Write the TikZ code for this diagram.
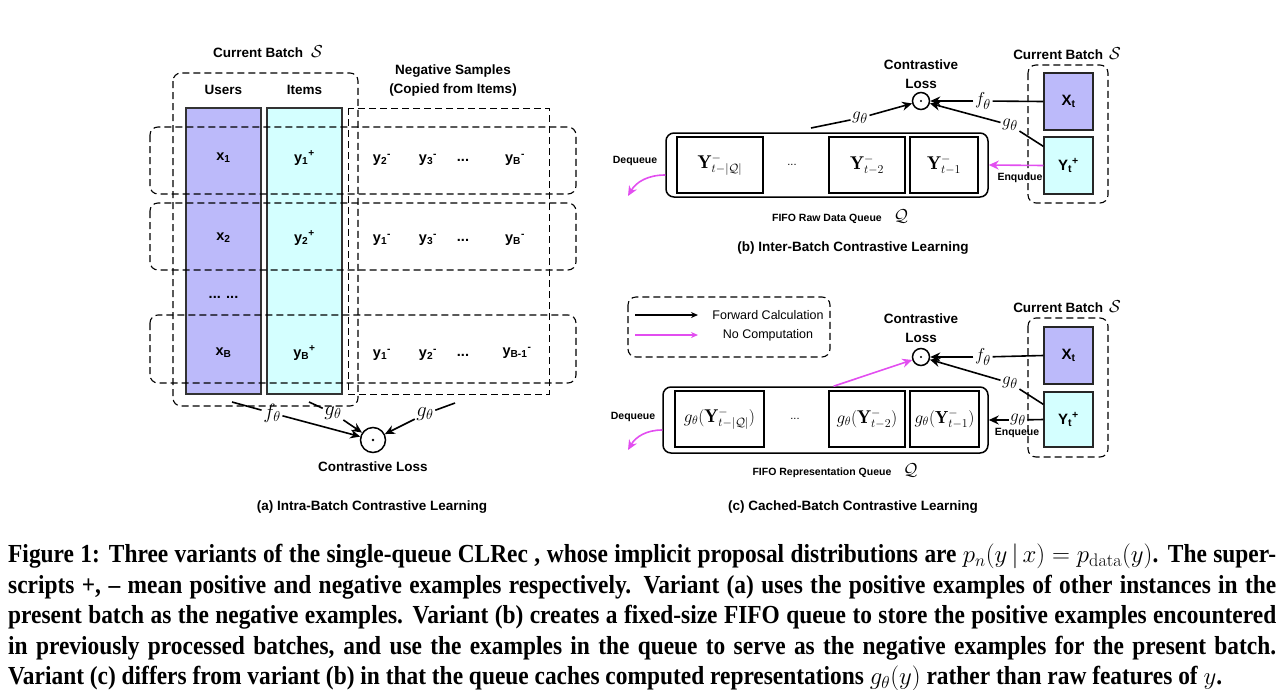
\documentclass[tikz,border=0pt]{standalone}
\usepackage{fontspec}
\setsansfont{Liberation Sans}
\newfontfamily\capfont[FakeStretch=0.9,Ligatures=TeX]{Liberation Serif}
\usepackage{tikz}
\usetikzlibrary{arrows.meta,backgrounds}
\definecolor{userblue}{RGB}{188,186,250}
\definecolor{itemcyan}{RGB}{212,255,255}
\definecolor{nocomp}{RGB}{226,78,240}
\tikzstyle{ttl}=[font=\sffamily\bfseries\fontsize{13.5}{19}\selectfont, inner sep=1pt, align=center]
\tikzstyle{cell}=[font=\sffamily\bfseries\fontsize{14.5}{16}\selectfont, inner sep=1pt]
\tikzstyle{smalltxt}=[font=\sffamily\bfseries\fontsize{10.5}{12}\selectfont, inner sep=1pt]
\tikzstyle{legtxt}=[font=\sffamily\fontsize{12.5}{14}\selectfont, inner sep=1pt]
\tikzstyle{mlbl}=[font=\fontsize{19}{22}\selectfont, inner sep=1.5pt]
\tikzstyle{mlbla}=[font=\fontsize{21}{24}\selectfont, inner sep=1.5pt]
\tikzstyle{colbox}=[rectangle, draw=black!80, line width=1.2pt, anchor=north west, minimum width=75pt, minimum height=286pt, inner sep=0pt, outer sep=0pt]
\tikzstyle{batchbox}=[rectangle, draw=black!85, line width=1.2pt, minimum width=49pt, inner sep=0pt, font=\sffamily\bfseries\fontsize{15}{17}\selectfont]
\tikzstyle{queue}=[rectangle, draw, line width=1.5pt, rounded corners=8pt, inner sep=0pt]
\tikzstyle{qcell}=[rectangle, draw, line width=1.4pt, minimum height=56pt, inner sep=0pt, font=\fontsize{18.5}{20}\selectfont]
\tikzstyle{lossnode}=[circle, draw, line width=1.5pt, inner sep=0pt]
\tikzstyle{dashbox}=[dash pattern=on 7pt off 4pt, line width=1.1pt]
\tikzstyle{line1}=[line width=1.6pt]
\tikzstyle{arrow1}=[line width=1.6pt, -{Stealth[length=10pt,width=9pt]}]
\tikzstyle{arrow2}=[line width=1.6pt, draw=nocomp, -{Stealth[length=10pt,width=9pt]}]
\newcommand\capsize{\fontsize{26}{30.5}\selectfont}
\begin{document}
\begin{tikzpicture}[x=1pt,y=-1pt]
\useasboundingbox (0,0) rectangle (1288,689);
%(a) Intra-Batch
\begin{scope}[on background layer]
\node[colbox, fill=userblue] (users) at (186,108){};
\node[colbox, fill=itemcyan] (items) at (267,108){};
\end{scope}
\draw[dashbox, rounded corners=8pt] (173,73) rectangle (358,406);
\draw[dashbox, line width=0.9pt] (348,108) rectangle (549,394);
\draw[dashbox, rounded corners=8pt] (150,127) rectangle (576,194);
\draw[dashbox, rounded corners=8pt] (150,203) rectangle (576,270);
\draw[dashbox, rounded corners=8pt] (150,315) rectangle (576,383);
\node[ttl] (cba) at (268,52){Current Batch \hspace{4pt}{\fontsize{16}{16}\selectfont$\mathcal{S}$}};
\node[ttl] (usr) at (223.5,90){Users};
\node[ttl] (itm) at (304.5,90){Items};
\node[ttl] (neg) at (453,81){Negative Samples\\(Copied from Items)};
%Row One
\node[cell] (x1) at (223.5,158){x\textsubscript{1}};
\node[cell] (y1) at (304.5,158){y\textsubscript{1}\textsuperscript{+}};
\node[cell] (n12) at (382,160){y\textsubscript{2}\textsuperscript{-}};
\node[cell] (n13) at (428,160){y\textsubscript{3}\textsuperscript{-}};
\node[cell] (n1d) at (463,160){...};
\node[cell] (n1b) at (515,160){y\textsubscript{B}\textsuperscript{-}};
%Row Two
\node[cell] (x2) at (223.5,238){x\textsubscript{2}};
\node[cell] (y2) at (304.5,238){y\textsubscript{2}\textsuperscript{+}};
\node[cell] (n21) at (382,240){y\textsubscript{1}\textsuperscript{-}};
\node[cell] (n23) at (428,240){y\textsubscript{3}\textsuperscript{-}};
\node[cell] (n2d) at (463,240){...};
\node[cell] (n2b) at (515,240){y\textsubscript{B}\textsuperscript{-}};
\node[cell] (xd) at (223.5,297){... ...};
%Row B
\node[cell] (xb) at (223.5,353){x\textsubscript{B}};
\node[cell] (yb) at (304.5,353){y\textsubscript{B}\textsuperscript{+}};
\node[cell] (nb1) at (382,355){y\textsubscript{1}\textsuperscript{-}};
\node[cell] (nb2) at (428,355){y\textsubscript{2}\textsuperscript{-}};
\node[cell] (nbd) at (463,355){...};
\node[cell] (nbb) at (517,353){y\textsubscript{B-1}\textsuperscript{-}};
%loss
\node[lossnode, minimum size=25pt] (lossa) at (373,440){};
\fill (lossa.center) circle (1.4);
\node[ttl] (cla) at (373,467){Contrastive Loss};
\node[ttl] (capa) at (372,507){(a) Intra-Batch Contrastive Learning};
\node[mlbla] (fa) at (272,413){$f_\theta$};
\node[mlbla] (ga) at (333,413){$g_\theta$};
\node[mlbla] (gn) at (425,414){$g_\theta$};
\coordinate (ua) at (232,402);
\coordinate (ia) at (309,402);
\coordinate (na) at (455,403);
\draw[line1] (ua) -- (fa);
\draw[arrow1] (fa) -- (lossa);
\draw[line1] (ia) -- (ga);
\draw[arrow1] (ga) -- (lossa);
\draw[line1] (na) -- (gn);
\draw[arrow1] (gn) -- (lossa);

%(b) Inter-Batch
\node[ttl] (clb) at (921,74){Contrastive\\Loss};
\node[lossnode, minimum size=17pt] (lossb) at (921,101){};
\fill (lossb.center) circle (1.2);
\node[ttl] (cbb) at (1067,54){Current Batch \hspace{2pt}{\fontsize{16}{16}\selectfont$\mathcal{S}$}};
\draw[dashbox, rounded corners=8pt] (1028,65) rectangle (1108,203);
\node[batchbox, fill=userblue, minimum height=57pt] (xtb) at (1068.5,101.5){X\textsubscript{t}};
\node[batchbox, fill=itemcyan, minimum height=57pt] (ytb) at (1068.5,165.5){Y\textsubscript{t}\textsuperscript{+}};
\node[queue, minimum width=322pt, minimum height=64pt] (qb) at (827,165){};
\node[qcell, minimum width=86pt] (b1) at (720,165){$\mathbf{Y}^-_{t-|\mathcal{Q}|}$};
\node[cell, font=\sffamily\fontsize{11}{12}\selectfont] (b2) at (792,165){...};
\node[qcell, minimum width=76pt] (b3) at (867,165){$\mathbf{Y}^-_{t-2}$};
\node[qcell, minimum width=68pt] (b4) at (944,165){$\mathbf{Y}^-_{t-1}$};
\node[smalltxt] (deqb) at (635,161){Dequeue};
\node[smalltxt] (enqb) at (1020,178){Enqudue};
\node[smalltxt] (fifob) at (840,217){FIFO Raw Data Queue\hspace{12pt}{\fontsize{16}{16}\selectfont$\mathcal{Q}$}};
\node[ttl] (capb) at (853,248){(b) Inter-Batch Contrastive Learning};
\node[mlbl] (fb) at (983,101){$f_\theta$};
\node[mlbl] (gyb) at (1010,125){$g_\theta$};
\node[mlbl] (gqb) at (860,118){$g_\theta$};
\coordinate (qtopb) at (811,128);
\coordinate (outb) at (628,196);
\draw[line1] (xtb.west) -- (fb);
\draw[arrow1] (fb) -- (lossb);
\draw[line1] ([yshift=-10pt]ytb.north west) -- (gyb);
\draw[arrow1] (gyb) -- (lossb);
\draw[line1] (qtopb) -- (gqb);
\draw[arrow1] (gqb) -- (lossb);
\draw[arrow2] (ytb.west) -- (qb.east);
\draw[arrow2] ([yshift=-10pt]qb.west) to[out=180,in=60] (outb);

%(c) Cached-Batch
\draw[dashbox, rounded corners=8pt] (628,297) rectangle (830,357);
\coordinate (lg1) at (635,315);
\coordinate (lg2) at (698,315);
\coordinate (lg3) at (635,335);
\coordinate (lg4) at (698,335);
\draw[line width=1.2pt, -{Stealth[length=7pt,width=6pt]}] (lg1) -- (lg2);
\draw[line width=1.2pt, draw=nocomp, -{Stealth[length=7pt,width=6pt]}] (lg3) -- (lg4);
\node[legtxt] (fwd) at (768,315){Forward Calculation};
\node[legtxt] (noc) at (768,335){No Computation};
\node[ttl] (clc) at (921,328){Contrastive\\Loss};
\node[lossnode, minimum size=17pt] (lossc) at (921,357){};
\fill (lossc.center) circle (1.2);
\node[ttl] (cbc) at (1067,307){Current Batch \hspace{2pt}{\fontsize{16}{16}\selectfont$\mathcal{S}$}};
\draw[dashbox, rounded corners=8pt] (1028,318) rectangle (1108,457);
\node[batchbox, fill=userblue, minimum height=57pt] (xtc) at (1068.5,355.5){X\textsubscript{t}};
\node[batchbox, fill=itemcyan, minimum height=55pt] (ytc) at (1068.5,419.5){Y\textsubscript{t}\textsuperscript{+}};
\node[queue, minimum width=325pt, minimum height=66pt] (qc) at (825.5,420){};
\node[qcell, minimum width=89pt] (c1) at (719.5,419){$g_\theta(\mathbf{Y}^-_{t-|\mathcal{Q}|})$};
\node[cell, font=\sffamily\fontsize{11}{12}\selectfont] (c2) at (795,419){...};
\node[qcell, minimum width=76pt] (c3) at (867,419){$g_\theta(\mathbf{Y}^-_{t-2})$};
\node[qcell, minimum width=69pt, font=\fontsize{17.5}{20}\selectfont] (c4) at (944.5,419){$g_\theta(\mathbf{Y}^-_{t-1})$};
\node[smalltxt] (deqc) at (633,417){Dequeue};
\node[smalltxt] (enqc) at (1017,433){Enqueue};
\node[smalltxt] (fifoc) at (835,471){FIFO Representation Queue\hspace{12pt}{\fontsize{16}{16}\selectfont$\mathcal{Q}$}};
\node[ttl] (capc) at (853,507){(c) Cached-Batch Contrastive Learning};
\node[mlbl] (fc) at (983,357){$f_\theta$};
\node[mlbl] (gyc) at (1010,383){$g_\theta$};
\node[mlbl] (gqc) at (1018,420){$g_\theta$};
\coordinate (outc) at (628,450);
\draw[line1] (xtc.west) -- (fc);
\draw[arrow1] (fc) -- (lossc);
\draw[line1] ([yshift=-13pt]ytc.north west) -- (gyc);
\draw[arrow1] (gyc) -- (lossc);
\draw[line1] (ytc.west) -- (gqc);
\draw[arrow1] (gqc) -- (qc.east);
\draw[arrow2] ([xshift=8pt]qc.north) -- (lossc);
\draw[arrow2] ([yshift=-10pt]qc.west) to[out=180,in=60] (outc);

%caption
\node[anchor=north west, text width=1268pt, align=justify, inner sep=0pt, font=\capfont\bfseries\capsize] (cap) at (8,544){\hyphenpenalty=10000 \thickmuskip=5mu \medmuskip=4mu Figure 1: Three variants of the single-queue CLRec , whose implicit proposal distributions are $p_n(y\,|\,x) = p_{\mathrm{data}}(y)$. The super-\linebreak scripts +, \textendash{} mean positive and negative examples respectively. Variant (a) uses the positive examples of other instances in the\linebreak present batch as the negative examples. Variant (b) creates a fixed-size FIFO queue to store the positive examples encountered\linebreak in previously processed batches, and use the examples in the queue to serve as the negative examples for the present batch.\linebreak Variant (c) differs from variant (b) in that the queue caches computed representations $g_\theta(y)$ rather than raw features of $y$.};
\end{tikzpicture}
\end{document}
